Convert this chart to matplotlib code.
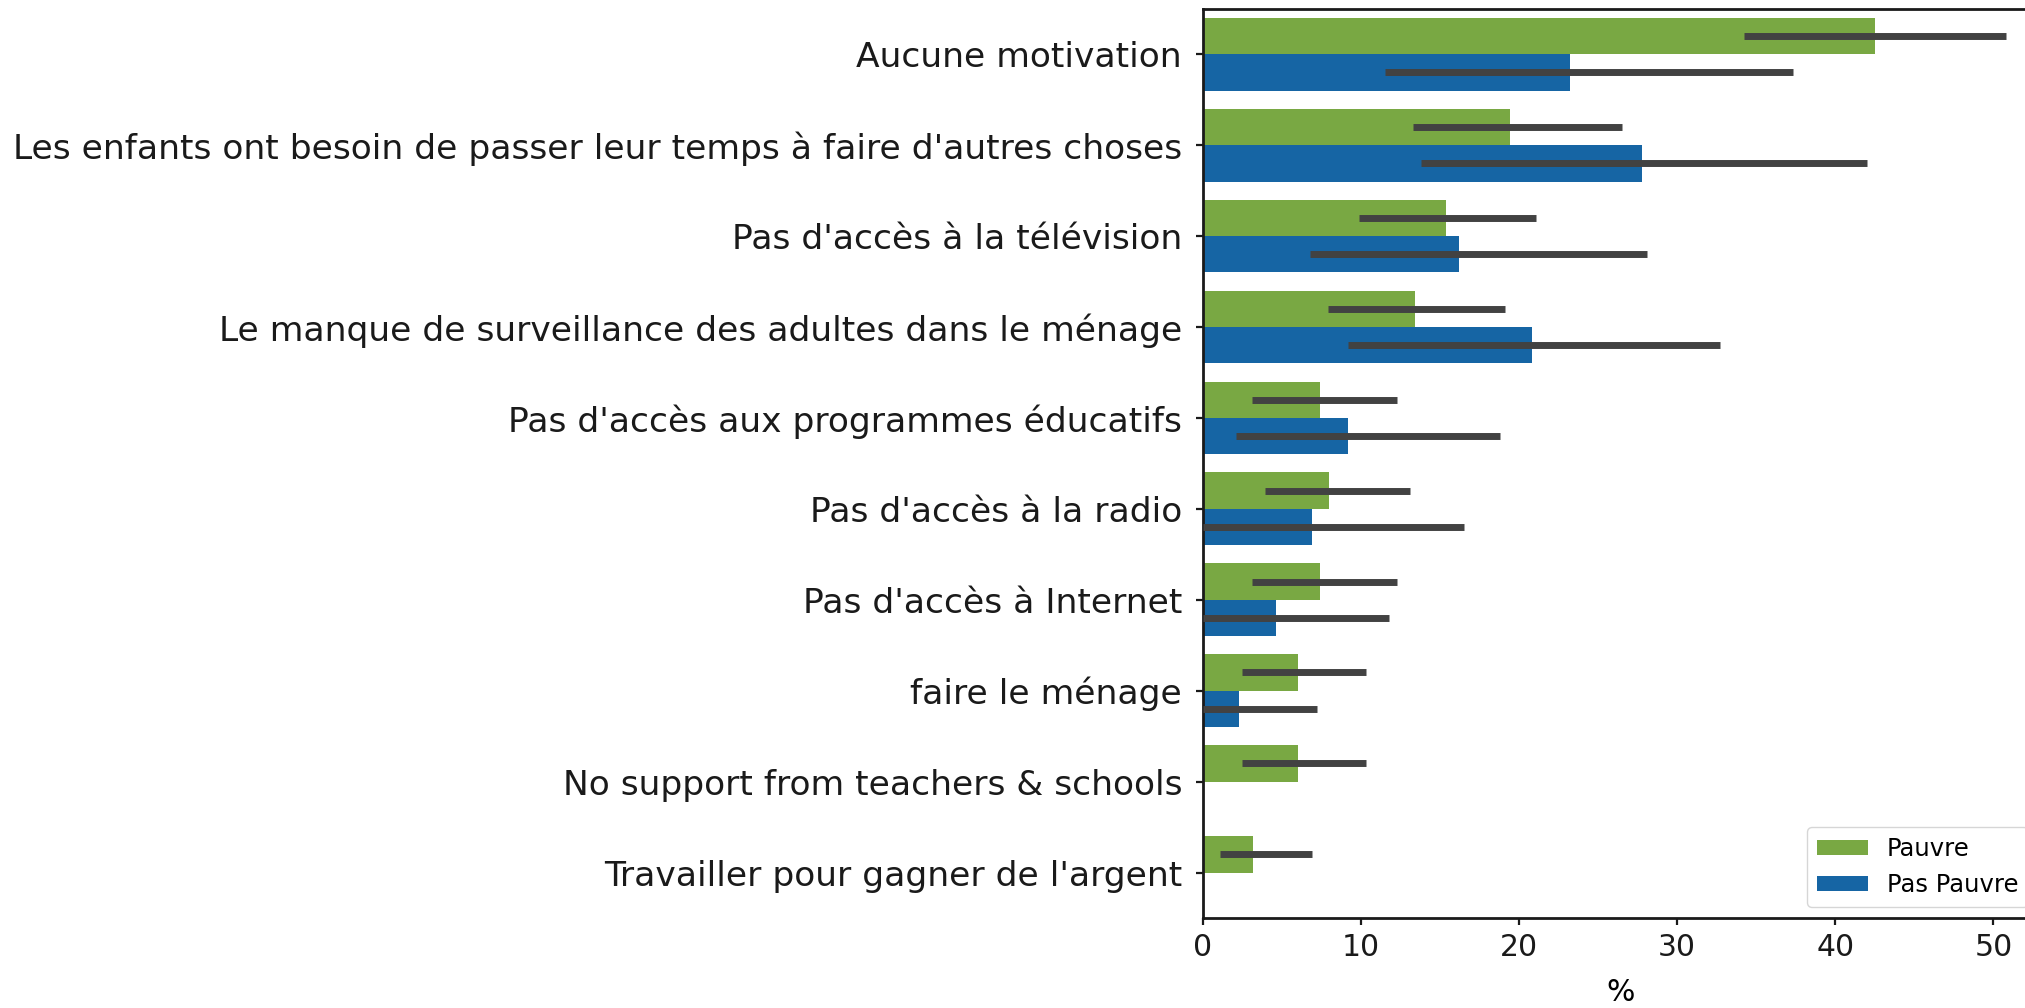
import numpy as np
import matplotlib
matplotlib.use("Agg")
import matplotlib.pyplot as plt
from matplotlib.patches import Patch

# Reasons given, share of households (%), with 95% confidence bounds
categories = [
    "Aucune motivation",
    "Les enfants ont besoin de passer leur temps à faire d'autres choses",
    "Pas d'accès à la télévision",
    "Le manque de surveillance des adultes dans le ménage",
    "Pas d'accès aux programmes éducatifs",
    "Pas d'accès à la radio",
    "Pas d'accès à Internet",
    "faire le ménage",
    "No support from teachers & schools",
    "Travailler pour gagner de l'argent",
]

pauvre = [42.5, 19.4, 15.4, 13.4, 7.4, 8.0, 7.4, 6.0, 6.0, 3.2]
pauvre_lo = [34.2, 13.3, 9.9, 7.9, 3.1, 3.9, 3.1, 2.5, 2.5, 1.1]
pauvre_hi = [50.8, 26.5, 21.1, 19.1, 12.3, 13.1, 12.3, 10.3, 10.3, 6.9]

pas_pauvre = [23.2, 27.8, 16.2, 20.8, 9.2, 6.9, 4.6, 2.3, None, None]
pas_pauvre_lo = [11.5, 13.8, 6.8, 9.2, 2.1, 0.0, 0.0, 0.0, None, None]
pas_pauvre_hi = [37.3, 42.0, 28.1, 32.7, 18.8, 16.5, 11.8, 7.2, None, None]

groups = ["Pauvre", "Pas Pauvre"]
colors = ["#79a843", "#1665a4"]
err_color = "#424242"

fig = plt.figure(figsize=(20.25, 10.08), dpi=100)
ax = fig.add_axes([0.594, 0.0893, 0.413, 0.902])

bar_h = 0.4
series = [
    (pauvre, pauvre_lo, pauvre_hi),
    (pas_pauvre, pas_pauvre_lo, pas_pauvre_hi),
]
for k, (vals, lo, hi) in enumerate(series):
    offset = -bar_h / 2 + k * bar_h
    for i, v in enumerate(vals):
        if v is None:
            continue
        y = i + offset
        ax.barh(y, v, height=bar_h, color=colors[k], linewidth=0)
        ax.plot([lo[i], hi[i]], [y, y], color=err_color, lw=5,
                solid_capstyle="butt", zorder=3)

ax.set_yticks(range(len(categories)))
ax.set_yticklabels(categories, fontsize=24.8)
ax.set_ylim(len(categories) - 0.5, -0.5)
ax.set_xlim(0, 52.9)
ax.set_xticks([0, 10, 20, 30, 40, 50])
ax.set_xlabel("%", fontsize=21.5, labelpad=11)

ax.tick_params(axis="x", labelsize=21.5)
ax.tick_params(axis="both", width=1.6, length=5, colors="#1a1a1a")
ax.tick_params(axis="y", pad=10)
ax.tick_params(axis="x", pad=6)
for s in ax.spines.values():
    s.set_linewidth(2)
    s.set_color("#1a1a1a")

handles = [Patch(facecolor=c, edgecolor="none") for c in colors]
ax.legend(handles, groups, loc="lower right", fontsize=17.5,
          handlelength=2.1, handleheight=0.6, borderaxespad=0.45)

fig.savefig("out.png", dpi=100)
